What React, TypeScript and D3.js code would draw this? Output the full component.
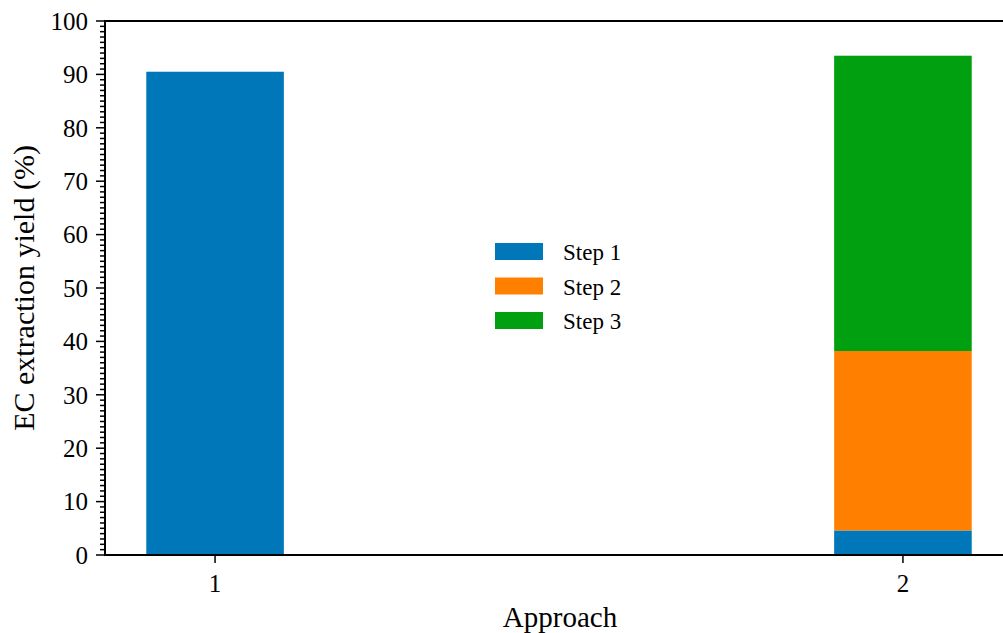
import React from "react";
import * as d3 from "d3";

// Extraction yield per approach, split by step (%)
const approaches = [1, 2];
const stepNames = ["Step 1", "Step 2", "Step 3"];
const step1 = [90.5, 4.6];
const step2 = [0, 33.6];
const step3 = [0, 55.3];
const yTicks = [0, 10, 20, 30, 40, 50, 60, 70, 80, 90, 100];
const colors = ["#0077b8", "#ff8000", "#00a010"];

const W = 1003;
const H = 633;
const margin = { left: 105, top: 21, bottom: 555, right: 1013 };
const font = "'Liberation Serif', 'Times New Roman', serif";

export default function App() {
  const x = d3.scaleLinear().domain([0.84, 2.16]).range([margin.left, margin.right]);
  const y = d3.scaleLinear().domain([0, 100]).range([margin.bottom, margin.top]);
  const barW = 0.2;

  const rows = approaches.map((a, i) => ({
    a,
    "Step 1": step1[i],
    "Step 2": step2[i],
    "Step 3": step3[i],
  }));
  const stacked = d3.stack<any>().keys(stepNames)(rows);
  const minor = d3.range(0, 101, 1).filter((v) => v % 10 !== 0);

  return (
    <svg
      width={W}
      height={H}
      style={{ position: "absolute", left: 0, top: 0, background: "#fff" }}
      fontFamily={font}
    >
      {stacked.map((layer, k) => (
        <g key={layer.key} fill={colors[k]}>
          {layer.map((d, i) => {
            const h = y(d[0]) - y(d[1]);
            if (h <= 0) return null;
            return (
              <rect
                key={i}
                x={x(approaches[i] - barW / 2)}
                width={x(approaches[i] + barW / 2) - x(approaches[i] - barW / 2)}
                y={y(d[1])}
                height={h}
              />
            );
          })}
        </g>
      ))}

      {/* spines */}
      <g stroke="#000" strokeWidth={2} fill="none">
        <line x1={margin.left} x2={margin.left} y1={margin.top} y2={margin.bottom} />
        <line x1={margin.left - 1} x2={margin.right} y1={margin.bottom} y2={margin.bottom} />
        <line x1={margin.left - 1} x2={margin.right} y1={margin.top} y2={margin.top} />
        <line x1={margin.right} x2={margin.right} y1={margin.top} y2={margin.bottom} />
      </g>

      {/* y ticks */}
      <g stroke="#000" strokeWidth={1.5}>
        {minor.map((v) => (
          <line key={v} x1={margin.left - 5} x2={margin.left} y1={y(v)} y2={y(v)} />
        ))}
        {yTicks.map((v) => (
          <line key={v} x1={margin.left - 9} x2={margin.left} y1={y(v)} y2={y(v)} />
        ))}
      </g>
      <g fontSize={25} textAnchor="end" fill="#000">
        {yTicks.map((v) => (
          <text key={v} x={margin.left - 17} y={y(v)} dy="0.35em">
            {v}
          </text>
        ))}
      </g>

      {/* x ticks */}
      <g>
        {approaches.map((a) => (
          <g key={a}>
            <line x1={x(a)} x2={x(a)} y1={margin.bottom} y2={margin.bottom + 8} stroke="#000" strokeWidth={1.5} />
            <text x={x(a)} y={592} fontSize={25} textAnchor="middle" fill="#000">
              {a}
            </text>
          </g>
        ))}
      </g>

      {/* axis titles */}
      <text x={560} y={627} fontSize={29} textAnchor="middle" fill="#000">
        Approach
      </text>
      <text
        transform={`translate(34, ${(margin.top + margin.bottom) / 2}) rotate(-90)`}
        fontSize={30}
        textAnchor="middle"
        fill="#000"
      >
        EC extraction yield (%)
      </text>

      {/* legend */}
      <g>
        {stepNames.map((s, i) => (
          <g key={s} transform={`translate(495, ${243 + i * 34.5})`}>
            <rect width={48} height={17} fill={colors[i]} />
            <text x={68} y={17} fontSize={23} fill="#000">
              {s}
            </text>
          </g>
        ))}
      </g>
    </svg>
  );
}
